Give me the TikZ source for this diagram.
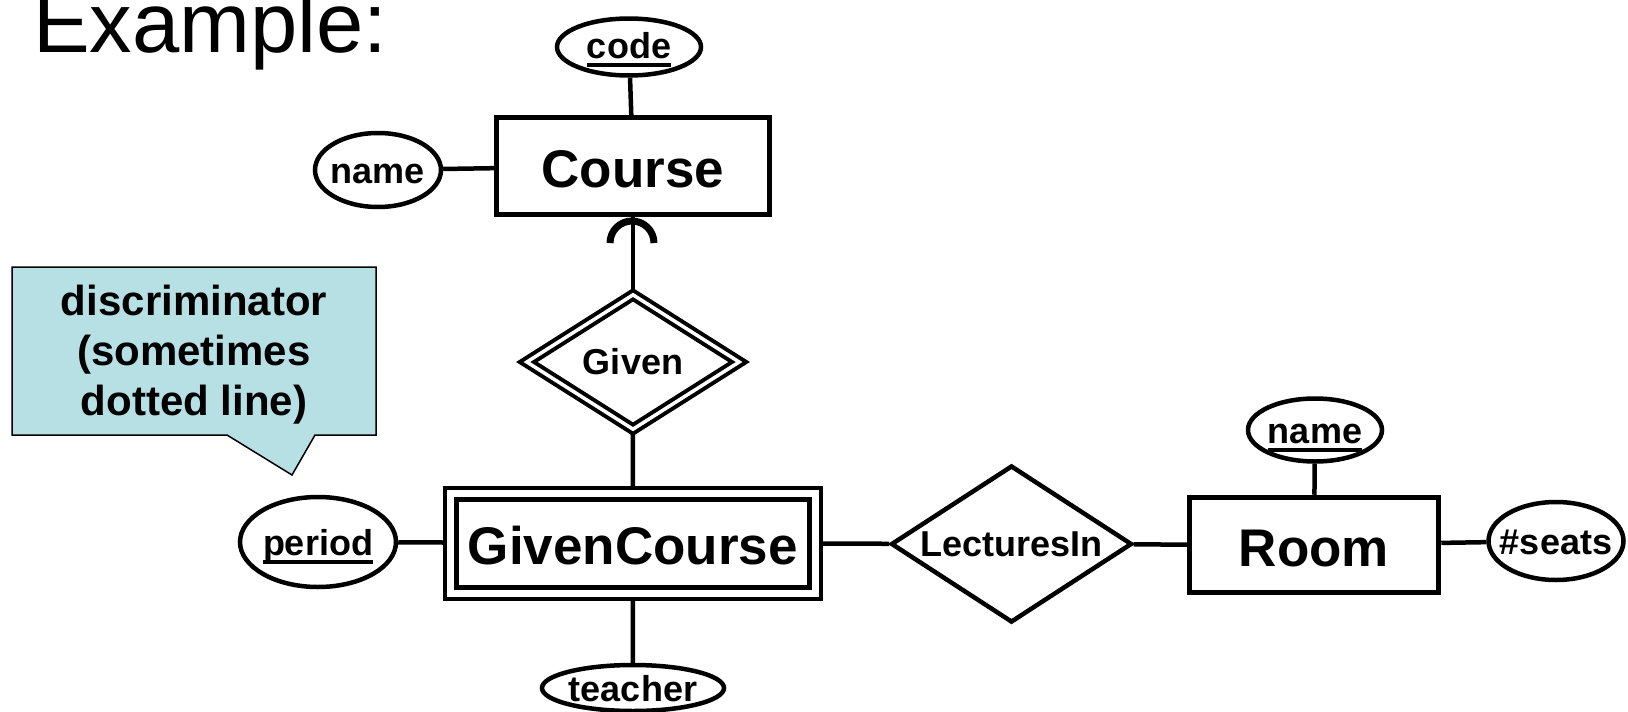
\documentclass[tikz,border=0pt]{standalone}
\usepackage{fontspec}
\setmainfont{Liberation Sans}
\usetikzlibrary{shapes.geometric,backgrounds}
\definecolor{calloutfill}{RGB}{183,224,228}
\newcommand\ulx[1]{\setbox0\hbox{#1}\rlap{\rule[-8.5pt]{\wd0}{4.5pt}}\box0}
\newcommand\zw[1]{\makebox[0pt]{#1}}
\begin{document}
\begin{tikzpicture}[x=1pt,y=-1pt,
  attr/.style={ellipse,draw,line width=4.5pt,fill=white,inner sep=0pt,text height=27pt,text depth=0pt,font=\fontsize{36}{40}\selectfont\bfseries},
  entity/.style={rectangle,draw,line width=5pt,fill=white,inner sep=0pt,text height=42pt,text depth=0pt,font=\fontsize{53}{58}\selectfont\bfseries},
  rel/.style={diamond,draw,line width=4.5pt,fill=white,inner sep=0pt,font=\fontsize{36}{40}\selectfont\bfseries},
  conn/.style={line width=4.5pt}]
\useasboundingbox (0,0) rectangle (1628,712);

% title
\node[anchor=base west,inner sep=0pt,font=\fontsize{85}{92}\selectfont] (title) at (33,52) {Example:};

% entities
\node[entity,minimum width=273pt,minimum height=97pt] (course) at (633,166) {Course};
\node[entity,double,double distance=7pt,line width=4.5pt,minimum width=364.5pt,minimum height=99.5pt] (gc) at (632.75,543.25) {GivenCourse};
\node[entity,minimum width=249.5pt,minimum height=95.5pt] (room) at (1314,545) {Room};

% relationships
\node[rel,double,double distance=3.5pt,line width=4pt,minimum width=214pt,minimum height=136pt] (given) at (633,362) {\zw{Given}};
\node[rel,minimum width=241pt,minimum height=157pt] (lect) at (1011.5,544) {\zw{LecturesIn}};

% attributes
\node[attr,text height=23pt,minimum width=144pt,minimum height=57pt] (code) at (629,47) {\zw{\ulx{code}}};
\node[attr,minimum width=126pt,minimum height=74pt] (cname) at (378,170) {\zw{name}};
\node[attr,minimum width=182pt,minimum height=46pt] (teacher) at (633,688) {\zw{teacher}};
\node[attr,minimum width=156pt,minimum height=90pt] (period) at (318,542) {\zw{\ulx{period}}};
\node[attr,minimum width=134pt,minimum height=63pt] (rname) at (1315,430) {\zw{\ulx{name}}};
\node[attr,minimum width=135pt,minimum height=78pt] (seats) at (1556,541) {\zw{\#seats}};

% callout
\filldraw[fill=calloutfill,draw=black,line width=1.5pt] (12,267) -- (376,267) -- (376,435) -- (315,435) -- (292,475) -- (227,435) -- (12,435) -- cycle;
\node[align=center,font=\fontsize{42}{50}\selectfont\bfseries,inner sep=0pt] (callout) at (194,355) {discriminator\\(sometimes\\dotted line)};

% round arrow at Course
\draw[line width=7pt] (610,243) .. controls (610,230.85) and (619.85,221) .. (632,221) .. controls (644.15,221) and (654,230.85) .. (654,243);

\begin{scope}[on background layer]
\fill[white] (0,0) rectangle (1628,712);
\draw[conn] (code) -- (course);
\draw[conn] (cname) -- (course);
\draw[conn] (course) -- (given);
\draw[conn] (given) -- (gc);
\draw[conn] (gc) -- (teacher);
\draw[conn] (period) -- (gc);
\draw[conn] (gc) -- (lect);
\draw[conn] (lect) -- (room);
\draw[conn] (rname) -- (room);
\draw[conn] (room) -- (seats);
\end{scope}
\end{tikzpicture}
\end{document}
